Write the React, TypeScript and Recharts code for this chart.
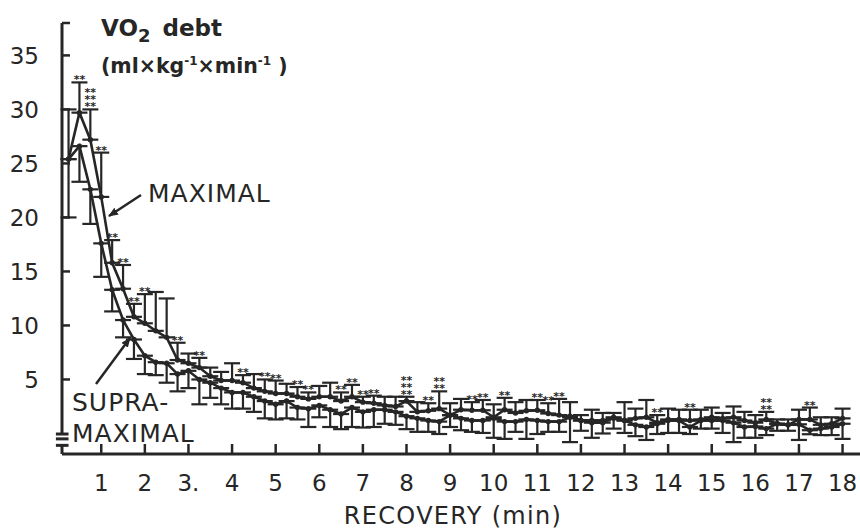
import React from 'react';
import { ComposedChart, Line, XAxis, YAxis, ErrorBar, ReferenceLine } from 'recharts';

const times = [
  0.25, 0.5, 0.75, 1, 1.25, 1.5, 1.75, 2, 2.25, 2.5, 2.75, 3,
  3.25, 3.5, 3.75, 4, 4.25, 4.5, 4.75, 5, 5.25, 5.5, 5.75, 6,
  6.25, 6.5, 6.75, 7, 7.25, 7.5, 7.75, 8, 8.25, 8.5, 8.75, 9,
  9.25, 9.5, 9.75, 10, 10.25, 10.5, 10.75, 11, 11.25, 11.5, 11.75, 12,
  12.25, 12.5, 12.75, 13, 13.25, 13.5, 13.75, 14, 14.25, 14.5, 14.75, 15,
  15.25, 15.5, 15.75, 16, 16.25, 16.5, 16.75, 17, 17.25, 17.5, 17.75, 18,
];

const maximal = [
  25.4, 29.7, 27.2, 21.9, 15.8, 13.4, 10.8, 10.2, 9.5, 8.9, 6.8, 6.5,
  6.1, 5.3, 4.9, 4.9, 4.7, 4.2, 3.9, 3.7, 3.7, 3.4, 3.2, 3.4,
  3.4, 3.0, 3.4, 2.9, 2.8, 2.6, 2.5, 3.0, 2.0, 2.1, 2.3, 1.7,
  2.2, 2.15, 2.15, 1.5, 2.2, 1.9, 2.1, 2.15, 1.85, 1.7, 1.6, 1.2,
  1.2, 1.2, 1.4, 1.2, 1.4, 1.5, 1.0, 1.3, 1.3, 1.2, 1.3, 1.5,
  1.4, 1.5, 1.2, 1.0, 1.3, 0.9, 0.8, 1.3, 1.3, 0.8, 0.9, 1.4,
];

const maximalTop = [
  30.0, 32.5, 30.0, 26.0, 17.9, 15.6, 12.0, 12.9, 13.1, 12.5, 8.4, 7.4,
  7.0, 6.1, 5.7, 6.5, 5.4, 5.5, 5.0, 4.9, 4.6, 4.3, 3.8, 4.4,
  4.7, 3.8, 4.5, 3.4, 3.5, 3.4, 3.4, 3.4, 2.9, 2.8, 3.9, 2.8,
  3.2, 2.9, 3.1, 2.7, 3.3, 2.9, 3.1, 3.1, 2.8, 3.2, 2.9, 1.7,
  2.2, 1.9, 1.9, 2.9, 2.3, 3.1, 1.7, 2.3, 2.2, 2.2, 2.2, 2.4,
  1.9, 2.5, 2.0, 1.7, 2.0, 1.3, 1.3, 2.2, 2.4, 1.5, 1.5, 2.3,
];

const supra = [
  25.4, 26.6, 22.6, 17.6, 13.3, 10.5, 8.7, 7.2, 6.6, 6.5, 5.5, 5.8,
  5.0, 4.7, 4.2, 3.8, 3.8, 3.4, 3.0, 2.7, 3.0, 2.4, 2.3, 2.6,
  2.2, 1.8, 2.4, 2.0, 2.2, 2.2, 2.0, 1.6, 1.4, 1.2, 1.1, 1.7,
  1.4, 1.2, 1.2, 1.4, 1.1, 1.1, 1.3, 1.2, 1.1, 1.1, 1.5, 1.2,
  1.0, 1.0, 1.5, 1.2, 0.8, 0.6, 0.9, 1.2, 1.2, 0.6, 1.2, 1.2,
  1.2, 1.0, 0.6, 0.65, 0.45, 0.9, 0.8, 0.85, 0.3, 0.45, 0.6, 0.9,
];

const supraBottom = [
  20.0, 23.3, 19.4, 14.5, 11.3, 8.9, 6.9, 5.5, 5.4, 4.7, 3.9, 4.2,
  2.7, 3.3, 2.7, 2.3, 2.3, 2.0, 1.4, 1.3, 1.4, 1.3, 0.6, 1.5,
  0.6, 0.4, 0.6, 0.55, 0.6, 0.9, 0.8, 0.4, 0.15, 0.15, -0.05, 0.6,
  0.3, 0.15, 0.05, -0.4, -0.5, 0.15, -0.5, -0.05, 0.15, 0.15, -0.8, 0.25,
  -0.4, 0.0, 0.45, 0.05, -0.25, -0.6, -0.05, 0.05, 0.05, -0.05, 0.45, 0.45,
  0.05, -0.8, -0.4, -0.4, -0.15, 0.25, 0.25, -0.6, -0.07, -0.15, -0.15, -0.5,
];

// number of stacked "**" significance marks above the MAXIMAL error bar
const sigRows = [
  0, 1, 3, 1, 1, 1, 1, 1, 0, 0, 1, 0,
  1, 0, 0, 0, 1, 0, 1, 1, 0, 1, 1, 0,
  0, 1, 1, 1, 1, 0, 0, 3, 0, 1, 2, 0,
  0, 1, 1, 0, 1, 0, 0, 1, 1, 1, 0, 0,
  0, 0, 0, 0, 0, 0, 1, 0, 0, 1, 0, 0,
  0, 0, 0, 0, 2, 0, 0, 0, 1, 0, 0, 0,
];

const xTicks = [1, 2, 3, 4, 5, 6, 7, 8, 9, 10, 11, 12, 13, 14, 15, 16, 17, 18];
const yTicks = [5, 10, 15, 20, 25, 30, 35, 38];

const data = times.map((t, i) => ({
  t,
  max: maximal[i],
  maxErr: [0, +(maximalTop[i] - maximal[i]).toFixed(2)],
  supra: supra[i],
  supraErr: [+(supra[i] - supraBottom[i]).toFixed(2), 0],
  star: sigRows[i] ? maximalTop[i] : null,
  rows: sigRows[i],
}));

const INK = '#262626';
const FONT = "'DejaVu Sans', 'Liberation Sans', sans-serif";

const renderStars = (props: any) => {
  const { cx, cy, payload, index } = props;
  if (cy == null || cx == null || !payload || !payload.rows) return <g key={`s${index}`} />;
  const spans = [];
  for (let r = 0; r < payload.rows; r++) {
    spans.push(
      <tspan key={r} x={cx} dy={r === 0 ? 0 : -7}>
        **
      </tspan>
    );
  }
  return (
    <g key={`s${index}`}>
      <text
        x={cx}
        y={cy + 1}
        textAnchor="middle"
        fontSize={11}
        fontWeight="bold"
        fontFamily={FONT}
        fill={INK}
      >
        {spans}
      </text>
    </g>
  );
};

const seg = (x1: number, y1: number, x2: number, y2: number, key: string) => (
  <ReferenceLine
    key={key}
    segment={[{ x: x1, y: y1 }, { x: x2, y: y2 }]}
    stroke={INK}
    strokeWidth={3}
    ifOverflow="visible"
  />
);

export default function App() {
  return (
    <div style={{ position: 'absolute', left: 0, top: 0, width: 860, height: 531, background: '#fff' }}>
      <ComposedChart
        width={860}
        height={531}
        data={data}
        margin={{ top: 23, right: 0, bottom: 0, left: 0 }}
      >
        <XAxis
          type="number"
          dataKey="t"
          domain={[0.1, 18.4]}
          ticks={xTicks}
          allowDataOverflow
          height={77}
          tickSize={-10}
          tickMargin={31}
          tickFormatter={(v: number) => (v === 3 ? '3.' : String(v))}
          axisLine={{ stroke: INK, strokeWidth: 3 }}
          tickLine={{ stroke: INK, strokeWidth: 2.5 }}
          tick={{ fontSize: 23, fill: INK, fontFamily: FONT }}
        />
        <YAxis
          type="number"
          domain={[-1.9, 38]}
          ticks={yTicks}
          allowDataOverflow
          width={62}
          tickSize={-8}
          tickMargin={31}
          tickFormatter={(v: number) => (v === 38 ? '' : String(v))}
          axisLine={false}
          tickLine={{ stroke: INK, strokeWidth: 2.5 }}
          tick={{ fontSize: 23, fill: INK, fontFamily: FONT }}
        />
        {seg(0.1, 38, 0.1, -0.05, 'ya')}
        {seg(-0.04, -0.05, 0.25, -0.05, 'b1')}
        {seg(-0.04, -0.5, 0.25, -0.5, 'b2')}
        {seg(-0.04, -1.1, 0.25, -1.1, 'b3')}
        {seg(0.1, -1.1, 0.1, -1.9, 'yb')}
        <Line
          dataKey="supra"
          stroke={INK}
          strokeWidth={2.6}
          dot={{ r: 2.7, fill: INK, stroke: 'none' }}
          activeDot={false}
          isAnimationActive={false}
        >
          <ErrorBar dataKey="supraErr" direction="y" width={8} strokeWidth={2.2} stroke={INK} />
        </Line>
        <Line
          dataKey="max"
          stroke={INK}
          strokeWidth={2.6}
          dot={{ r: 2.7, fill: INK, stroke: 'none' }}
          activeDot={false}
          isAnimationActive={false}
        >
          <ErrorBar dataKey="maxErr" direction="y" width={8} strokeWidth={2.2} stroke={INK} />
        </Line>
        <Line
          dataKey="star"
          stroke="none"
          dot={renderStars}
          activeDot={false}
          isAnimationActive={false}
          legendType="none"
        />
      </ComposedChart>
      <svg
        width={860}
        height={531}
        style={{ position: 'absolute', left: 0, top: 0, pointerEvents: 'none' }}
      >
        <defs>
          <marker id="ah" markerWidth="10" markerHeight="8" refX="9" refY="4" orient="auto" markerUnits="userSpaceOnUse">
            <path d="M0,0 L10,4 L0,8 Z" fill={INK} />
          </marker>
        </defs>
        <text x={101} y={36} fontSize={23} fontWeight="bold" fontFamily={FONT} fill={INK}>
          VO<tspan fontSize={18} dy={6}>2</tspan>
          <tspan dy={-6} dx={12}>debt</tspan>
        </text>
        <text x={101} y={73} fontSize={20.5} fontWeight="bold" fontFamily={FONT} fill={INK}>
          (ml×kg<tspan fontSize={12} dy={-8}>-1</tspan>
          <tspan dy={8}>×min</tspan>
          <tspan fontSize={12} dy={-8}>-1</tspan>
          <tspan dy={8}> )</tspan>
        </text>
        <text x={148} y={202} fontSize={25} letterSpacing={1} fontFamily={FONT} fill={INK}>MAXIMAL</text>
        <text x={72} y={411} fontSize={25} letterSpacing={1} fontFamily={FONT} fill={INK}>SUPRA-</text>
        <text x={72} y={442} fontSize={25} letterSpacing={1} fontFamily={FONT} fill={INK}>MAXIMAL</text>
        <text x={453} y={524} textAnchor="middle" fontSize={24} letterSpacing={1.3} fontFamily={FONT} fill={INK}>
          RECOVERY (min)
        </text>
        <line x1={141} y1={195} x2={109} y2={216} stroke={INK} strokeWidth={2.5} markerEnd="url(#ah)" />
        <line x1={96} y1={384} x2={130} y2={338} stroke={INK} strokeWidth={2.5} markerEnd="url(#ah)" />
      </svg>
    </div>
  );
}
